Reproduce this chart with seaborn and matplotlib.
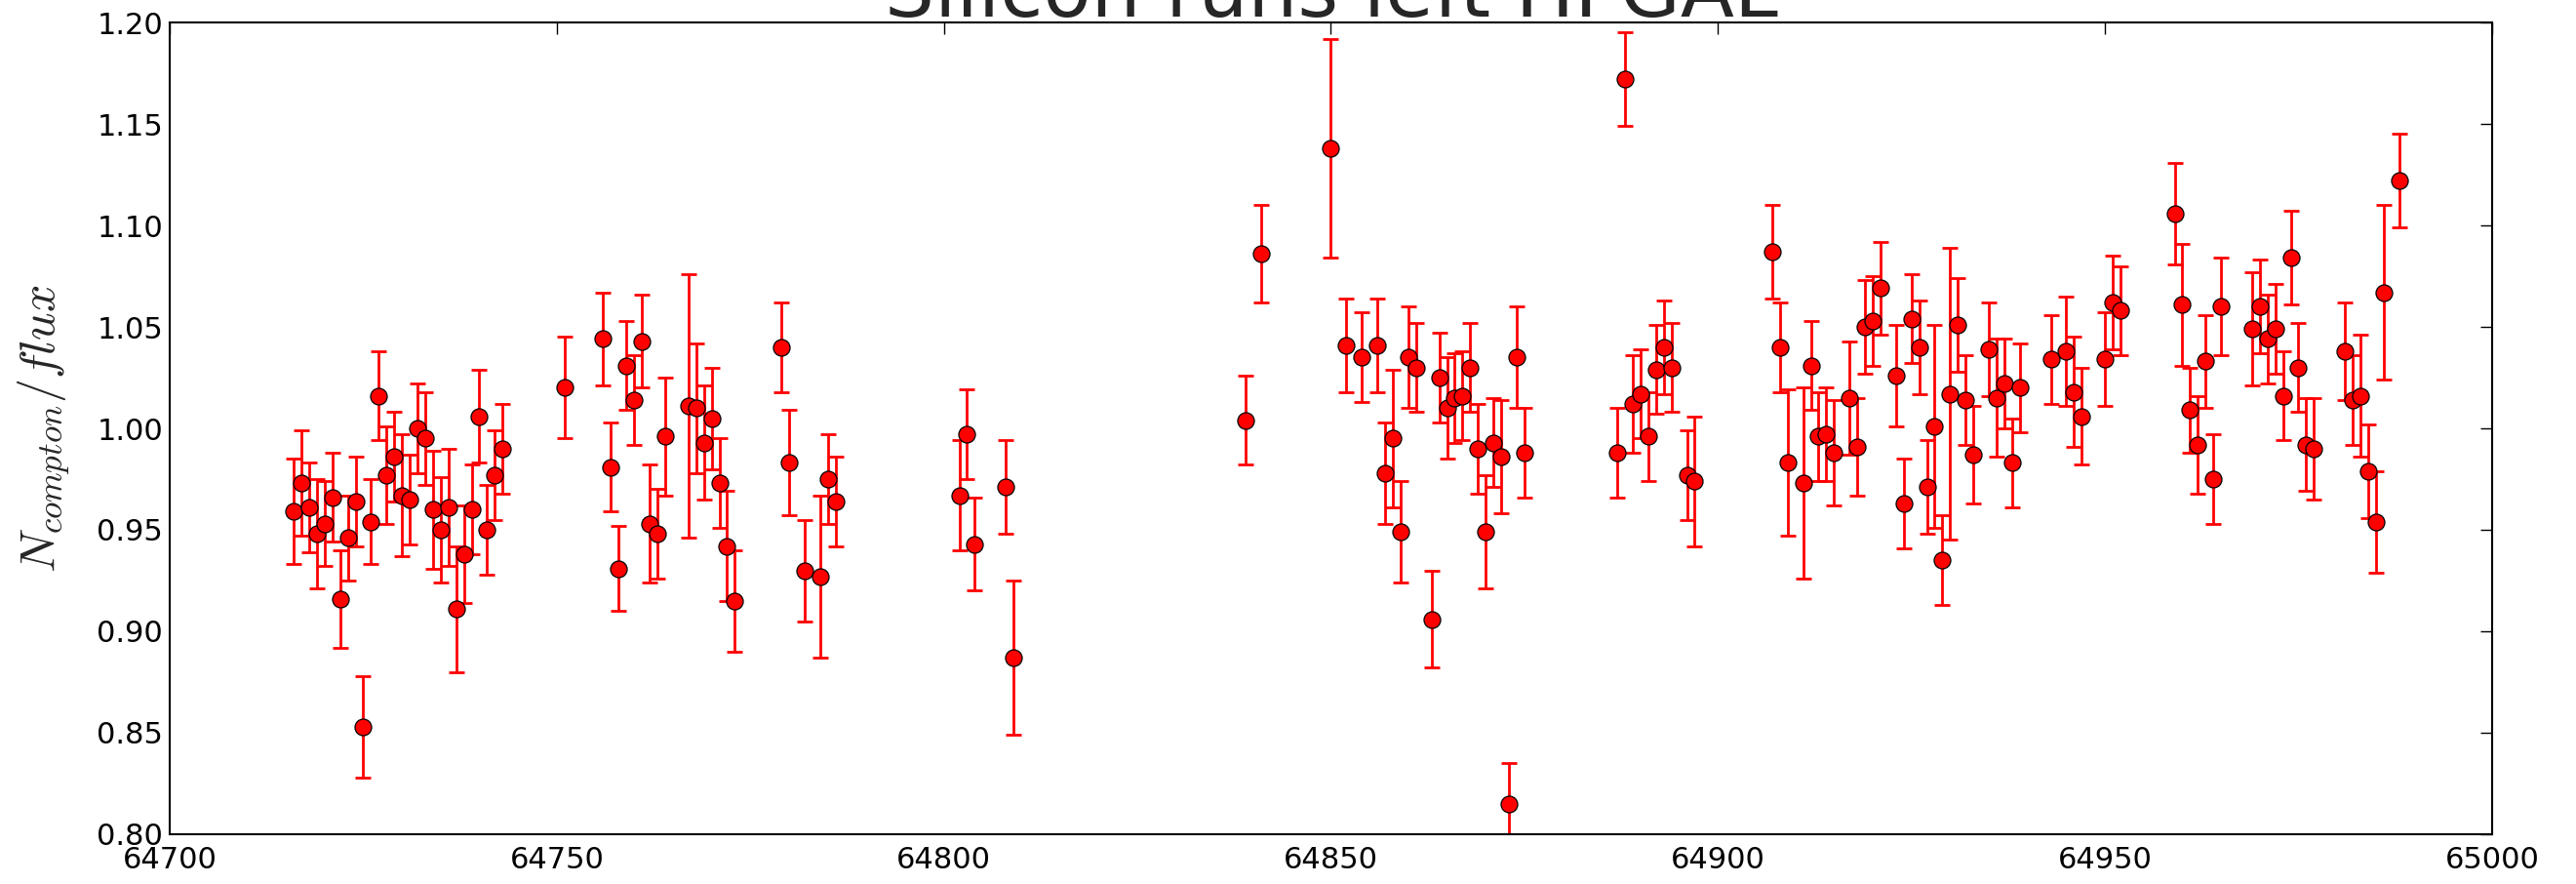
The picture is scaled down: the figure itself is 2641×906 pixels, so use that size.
import numpy as np
import pandas as pd
import seaborn as sns
import matplotlib
matplotlib.use('Agg')
import matplotlib.pyplot as plt

#%% Data
run = [64716, 64717, 64718, 64719, 64720, 64721, 64722, 64723, 64724, 64725,
       64726, 64727, 64728, 64729, 64730, 64731, 64732, 64733, 64734, 64735,
       64736, 64737, 64738, 64739, 64740, 64741, 64742, 64743,
       64751, 64756, 64757, 64758, 64759, 64760, 64761, 64762, 64763, 64764,
       64767, 64768, 64769, 64770, 64771, 64772, 64773,
       64779, 64780, 64782, 64784, 64785, 64786,
       64802, 64803, 64804, 64808, 64809,
       64839, 64841, 64850, 64852, 64854, 64856, 64857, 64858, 64859, 64860,
       64861, 64863, 64864, 64865, 64866, 64867, 64868, 64869, 64870, 64871,
       64872, 64873, 64874, 64875,
       64887, 64888, 64889, 64890, 64891, 64892, 64893, 64894, 64896, 64897,
       64907, 64908, 64909, 64911, 64912, 64913, 64914, 64915, 64917, 64918,
       64919, 64920, 64921, 64923, 64924, 64925, 64926, 64927, 64928, 64929,
       64930, 64931, 64932, 64933, 64935, 64936, 64937, 64938, 64939,
       64943, 64945, 64946, 64947, 64950, 64951, 64952,
       64959, 64960, 64961, 64962, 64963, 64964, 64965,
       64969, 64970, 64971, 64972, 64973, 64974, 64975, 64976, 64977,
       64981, 64982, 64983, 64984, 64985, 64986, 64988]

ratio = [0.959, 0.973, 0.961, 0.948, 0.953, 0.966, 0.916, 0.946, 0.964, 0.853,
         0.954, 1.016, 0.977, 0.986, 0.967, 0.965, 1.000, 0.995, 0.960, 0.950,
         0.961, 0.911, 0.938, 0.960, 1.006, 0.950, 0.977, 0.990,
         1.020, 1.044, 0.981, 0.931, 1.031, 1.014, 1.043, 0.953, 0.948, 0.996,
         1.011, 1.010, 0.993, 1.005, 0.973, 0.942, 0.915,
         1.040, 0.983, 0.930, 0.927, 0.975, 0.964,
         0.967, 0.997, 0.943, 0.971, 0.887,
         1.004, 1.086, 1.138, 1.041, 1.035, 1.041, 0.978, 0.995, 0.949, 1.035,
         1.030, 0.906, 1.025, 1.010, 1.015, 1.016, 1.030, 0.990, 0.949, 0.993,
         0.986, 0.815, 1.035, 0.988,
         0.988, 1.172, 1.012, 1.017, 0.996, 1.029, 1.040, 1.030, 0.977, 0.974,
         1.087, 1.040, 0.983, 0.973, 1.031, 0.996, 0.997, 0.988, 1.015, 0.991,
         1.050, 1.053, 1.069, 1.026, 0.963, 1.054, 1.040, 0.971, 1.001, 0.935,
         1.017, 1.051, 1.014, 0.987, 1.039, 1.015, 1.022, 0.983, 1.020,
         1.034, 1.038, 1.018, 1.006, 1.034, 1.062, 1.058,
         1.106, 1.061, 1.009, 0.992, 1.033, 0.975, 1.060,
         1.049, 1.060, 1.044, 1.049, 1.016, 1.084, 1.030, 0.992, 0.990,
         1.038, 1.014, 1.016, 0.979, 0.954, 1.067, 1.122]

ratio_err = [0.026, 0.026, 0.022, 0.027, 0.021, 0.022, 0.024, 0.021, 0.022, 0.025,
             0.021, 0.022, 0.024, 0.022, 0.030, 0.022, 0.022, 0.023, 0.029, 0.026,
             0.029, 0.031, 0.024, 0.022, 0.023, 0.022, 0.022, 0.022,
             0.025, 0.023, 0.022, 0.021, 0.022, 0.022, 0.023, 0.029, 0.022, 0.029,
             0.065, 0.032, 0.028, 0.025, 0.022, 0.027, 0.025,
             0.022, 0.026, 0.025, 0.040, 0.022, 0.022,
             0.027, 0.022, 0.023, 0.023, 0.038,
             0.022, 0.024, 0.054, 0.023, 0.022, 0.023, 0.025, 0.034, 0.025, 0.025,
             0.022, 0.024, 0.022, 0.025, 0.022, 0.022, 0.022, 0.022, 0.028, 0.022,
             0.028, 0.020, 0.025, 0.022,
             0.022, 0.023, 0.024, 0.022, 0.022, 0.022, 0.023, 0.022, 0.022, 0.032,
             0.023, 0.022, 0.036, 0.047, 0.022, 0.022, 0.023, 0.026, 0.028, 0.024,
             0.023, 0.022, 0.023, 0.025, 0.022, 0.022, 0.023, 0.023, 0.050, 0.022,
             0.072, 0.023, 0.022, 0.024, 0.023, 0.029, 0.022, 0.022, 0.022,
             0.022, 0.027, 0.027, 0.024, 0.023, 0.023, 0.022,
             0.025, 0.030, 0.021, 0.024, 0.023, 0.022, 0.024,
             0.028, 0.023, 0.022, 0.022, 0.022, 0.023, 0.022, 0.023, 0.025,
             0.024, 0.022, 0.030, 0.023, 0.025, 0.043, 0.023]

title = 'Silicon runs left HFGAL'
ylabel = r'$N_{compton}/flux$'
xticks = [64700, 64750, 64800, 64850, 64900, 64950, 65000]
yticks = [0.80, 0.85, 0.90, 0.95, 1.00, 1.05, 1.10, 1.15, 1.20]

df = pd.DataFrame({'run': run, 'ratio': ratio, 'err': ratio_err})

#%% Plot
sns.set_style('white')
plt.rcParams['font.family'] = ['DejaVu Sans']
plt.rcParams['mathtext.fontset'] = 'cm'

fig = plt.figure(figsize=(26.41, 9.06), dpi=100)
ax = fig.add_axes([0.0659, 0.0563, 0.9015, 0.9183])

# error bars first, markers drawn on top
ax.errorbar(df['run'], df['ratio'], yerr=df['err'], fmt='none',
            ecolor='red', elinewidth=2.0, capsize=5.8, capthick=2.0, zorder=2)
sns.scatterplot(data=df, x='run', y='ratio', color='red', edgecolor='black',
                linewidth=0.9, s=150, ax=ax, zorder=3, legend=False)

ax.set_xlim(64700, 65000)
ax.set_ylim(0.80, 1.20)
ax.set_xticks(xticks)
ax.set_yticks(yticks)
ax.set_xticklabels([str(t) for t in xticks])
ax.set_yticklabels([f'{t:.2f}' for t in yticks])
ax.tick_params(direction='in', length=8.5, width=1.0, labelsize=22,
               top=True, right=True, colors='black')
ax.tick_params(axis='x', pad=9)
ax.tick_params(axis='y', pad=5)
for sp in ax.spines.values():
    sp.set_linewidth(1.5)
    sp.set_color('black')

ax.set_xlabel('')
ax.set_ylabel(ylabel, fontsize=36, labelpad=18)
ax.set_title(title, fontsize=58, pad=4)

fig.savefig('out.png', dpi=100)
